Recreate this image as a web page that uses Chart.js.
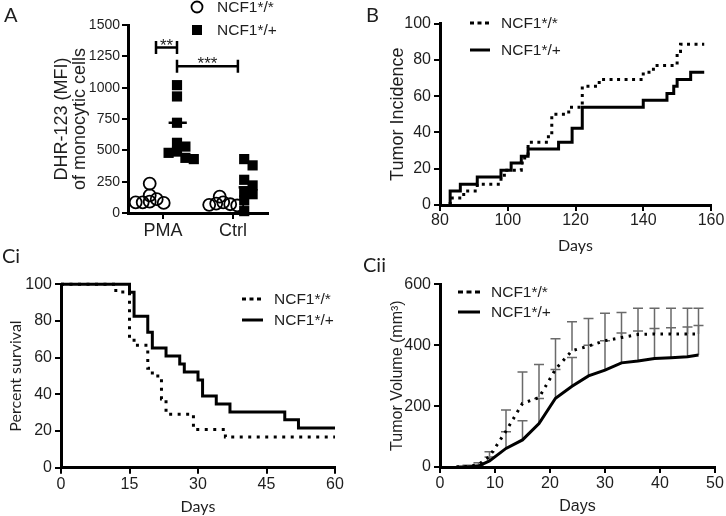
<!DOCTYPE html>
<html>
<head>
<meta charset="utf-8">
<script src="https://cdn.jsdelivr.net/npm/chart.js@4.4.1/dist/chart.umd.min.js"></script>
<style>
  html, body { margin: 0; padding: 0; background: #fff; }
  #wrap { position: relative; width: 726px; height: 516px; overflow: hidden; }
  canvas { position: absolute; }
</style>
</head>
<body>
<div id="wrap">
  <canvas id="chartA" width="300" height="240" style="left:0;top:0"></canvas>
  <canvas id="chartB" width="363" height="260" style="left:363px;top:0"></canvas>
  <canvas id="chartCi" width="363" height="276" style="left:0;top:240px"></canvas>
  <canvas id="chartCii" width="363" height="276" style="left:363px;top:240px"></canvas>
</div>
<script>
// ---- A: DHR-123 MFI, scatter dot plot
const groups = ['PMA', 'Ctrl'];
const pmaHom = [235, 140, 110, 90, 85, 80, 85];
const pmaHet = [1020, 930, 720, 560, 530, 490, 480, 440, 430];
const ctrlHom = [130, 85, 75, 70, 65, 60];
const ctrlHet = [430, 380, 265, 220, 170, 150, 100, 15];
const hetMeans = [720, 205];
const sigMarks = [
  { from: 0.4, to: 0.7, at: 1320, text: '**' },
  { from: 0.7, to: 1.57, at: 1170, text: '***' }
];

// ---- B: tumor incidence (step curves)
const incDaysHom = [83, 83, 87, 91, 98, 99, 104, 105, 106, 112, 113, 118, 122, 127, 140, 143, 150, 151, 158];
const incHom = [0, 3.8, 7.7, 11.5, 15.4, 19.2, 23.1, 26.9, 34.6, 38.5, 50.0, 53.8, 65.4, 69.2, 73.1, 76.9, 84.6, 88.5, 88.5];
const incDaysHet = [83, 83, 86, 91, 98, 101, 104, 106, 115, 119, 122, 140, 147, 149, 150, 154, 158];
const incHet = [0, 7.7, 11.5, 15.4, 19.2, 23.1, 26.9, 30.8, 34.6, 42.3, 53.8, 57.7, 61.5, 65.4, 69.2, 73.1, 73.1];

// ---- Ci: survival
const survDaysHom = [0, 12, 15, 16, 19, 20, 22, 23, 29, 36, 60];
const survHom = [100, 95.8, 70.8, 66.7, 54.2, 50.0, 37.5, 29.2, 20.8, 16.7, 16.7];
const survDaysHet = [0, 15, 16, 19, 20, 23, 26, 27, 30, 31, 34, 37, 49, 52, 60];
const survHet = [100, 95.7, 82.6, 73.9, 65.2, 60.9, 56.5, 52.2, 47.8, 39.1, 34.8, 30.4, 26.1, 21.7, 21.7];

// ---- Cii: tumor volume, mean + SEM
const volDays = [3, 5, 7, 9, 12, 15, 18, 21, 24, 27, 30, 33, 36, 39, 42, 45, 47];
const volHom = [0, 2, 8, 35, 118, 209, 228, 321, 382, 397, 415, 425, 435, 437, 437, 437, 437];
const semHom = [0, 4, 6, 15, 69, 103, 109, 100, 95, 91, 90, 82, 86, 84, 84, 84, 84];
const volHet = [0, 0, 3, 20, 61, 89, 143, 226, 265, 299, 318, 342, 348, 356, 359, 362, 368];
const semHet = [0, 0, 3, 13, 55, 63, 82, 94, 95, 101, 97, 98, 99, 99, 98, 98, 97];

const LEG = ['NCF1*/*', 'NCF1*/+'];
const INK = '#1e1e1e';

Chart.defaults.font.family = "'Liberation Sans', Arial, Helvetica, sans-serif";
Chart.defaults.color = INK;
Chart.defaults.animation = false;
Chart.defaults.responsive = false;
Chart.defaults.plugins.legend.display = false;
Chart.defaults.plugins.tooltip.enabled = false;

function pts(xs, ys) {
  return xs.map((x, i) => ({ x: x, y: ys[i] }));
}

// spread overlapping dots sideways (simple beeswarm), px scale of panel A
function swarm(values, center, minDist, step) {
  const pxX = 70, pxY = 188 / 1500;
  const placed = [];
  values.forEach(v => {
    let x = center;
    for (let k = 0; k < 30; k++) {
      const c = (k % 2 ? 1 : -1) * Math.ceil(k / 2);
      x = center + c * step;
      const ok = placed.every(p => Math.hypot((p.x - x) * pxX, (p.y - v) * pxY) >= minDist);
      if (ok) break;
    }
    placed.push({ x: x, y: v });
  });
  return placed;
}

function linAxis(o) {
  return {
    type: 'linear',
    min: o.min, max: o.max,
    afterBuildTicks: o.afterBuildTicks,
    afterFit: o.afterFit,
    ticks: Object.assign({ stepSize: o.step, color: INK, padding: 3, font: { size: o.tickSize || 16 }, callback: v => String(v) }, o.ticks || {}),
    grid: { drawOnChartArea: false, color: '#000', lineWidth: 2, tickLength: 6 },
    border: { color: '#000', width: 3 },
    title: o.title || { display: false }
  };
}

// legend + panel letter drawn at fixed spots
const decor = {
  id: 'decor',
  afterDraw(chart, args, opts) {
    const ctx = chart.ctx;
    ctx.save();
    if (opts.tag) {
      ctx.font = '20px Lato, sans-serif';
      ctx.fillStyle = INK;
      ctx.textBaseline = 'alphabetic';
      ctx.fillText(opts.tag.text, opts.tag.x, opts.tag.y);
    }
    (opts.items || []).forEach(it => {
      ctx.fillStyle = '#000';
      ctx.strokeStyle = '#000';
      if (it.kind === 'circle') {
        ctx.beginPath();
        ctx.lineWidth = 1.8;
        ctx.arc(it.x, it.y, 5.5, 0, Math.PI * 2);
        ctx.fillStyle = '#fff';
        ctx.fill();
        ctx.stroke();
      } else if (it.kind === 'square') {
        ctx.fillRect(it.x - 5, it.y - 5, 10, 10);
      } else {
        ctx.beginPath();
        ctx.lineWidth = 3;
        ctx.setLineDash(it.dash || []);
        ctx.moveTo(it.x, it.y);
        ctx.lineTo(it.x2, it.y);
        ctx.stroke();
        ctx.setLineDash([]);
      }
      ctx.fillStyle = INK;
      ctx.font = '15.5px "Liberation Sans", Arial, sans-serif';
      ctx.textBaseline = 'middle';
      ctx.fillText(it.label, it.tx, it.y + 1);
    });
    ctx.restore();
  }
};

// ---------------- Panel A ----------------
const dotsA = {
  id: 'dotsA',
  afterDatasetsDraw(chart) {
    const ctx = chart.ctx, xs = chart.scales.x, ys = chart.scales.y;
    ctx.save();
    ctx.strokeStyle = '#000';
    ctx.lineWidth = 2.5;
    hetMeans.forEach((m, i) => {
      const c = i + 0.7;
      ctx.beginPath();
      ctx.moveTo(xs.getPixelForValue(c - 0.12), ys.getPixelForValue(m));
      ctx.lineTo(xs.getPixelForValue(c + 0.14), ys.getPixelForValue(m));
      ctx.stroke();
    });
    sigMarks.forEach(s => {
      const x1 = xs.getPixelForValue(s.from), x2 = xs.getPixelForValue(s.to);
      const y = ys.getPixelForValue(s.at);
      ctx.beginPath();
      ctx.moveTo(x1, y); ctx.lineTo(x2, y);
      ctx.moveTo(x1, y - 6.5); ctx.lineTo(x1, y + 6.5);
      ctx.moveTo(x2, y - 6.5); ctx.lineTo(x2, y + 6.5);
      ctx.stroke();
      ctx.fillStyle = INK;
      ctx.font = '17px "Liberation Sans", Arial, sans-serif';
      ctx.textAlign = 'center';
      ctx.textBaseline = 'alphabetic';
      ctx.fillText(s.text, (x1 + x2) / 2, y + 3);
    });
    ctx.restore();
  }
};

const circleStyle = { pointStyle: 'circle', pointRadius: 6, backgroundColor: 'rgba(255,255,255,0)', borderColor: '#000', borderWidth: 1.8 };
const squareStyle = { pointStyle: 'rect', pointRadius: 7.2, backgroundColor: '#000', borderColor: '#000', borderWidth: 0 };

new Chart(document.getElementById('chartA'), {
  type: 'scatter',
  data: {
    datasets: [
      Object.assign({ label: LEG[1], data: swarm(pmaHet, 0.7, 8, 0.06).concat(swarm(ctrlHet, 1.66, 8, 0.06)) }, squareStyle),
      Object.assign({ label: LEG[0], data: swarm(pmaHom, 0.31, 6, 0.05).concat(swarm(ctrlHom, 1.31, 6, 0.05)) }, circleStyle)
    ]
  },
  options: {
    layout: { padding: { left: 0, top: 25, right: 32, bottom: 0 } },
    clip: false,
    scales: {
      x: linAxis({
        min: 0, max: 2, tickSize: 18,
        afterBuildTicks: ax => { ax.ticks = groups.map((g, i) => ({ value: i + 0.5 })); },
        afterFit: ax => { ax.height = 27; },
        ticks: { callback: (v, i) => groups[i], padding: 1 }
      }),
      y: linAxis({
        min: 0, max: 1500, step: 250, tickSize: 14,
        afterFit: ax => { ax.width = 128; },
        ticks: { padding: 2 },
        title: {
          display: true, text: ['DHR-123 (MFI)', 'of monocytic cells'],
          font: { size: 18, lineHeight: 0.98 }, color: INK,
          padding: { top: 53.5, bottom: 0 }
        }
      })
    },
    plugins: {
      decor: {
        tag: { text: 'A', x: 4, y: 22 },
        items: [
          { kind: 'circle', x: 197, y: 7, tx: 217, label: LEG[0] },
          { kind: 'square', x: 197, y: 30, tx: 217, label: LEG[1] }
        ]
      }
    }
  },
  plugins: [dotsA, decor]
});

// ---------------- Panel B ----------------
new Chart(document.getElementById('chartB'), {
  type: 'line',
  data: {
    datasets: [
      { label: LEG[0], data: pts(incDaysHom, incHom), stepped: 'before', borderColor: '#000', borderWidth: 3, borderDash: [3, 4.5], pointRadius: 0, fill: false, clip: 4 },
      { label: LEG[1], data: pts(incDaysHet, incHet), stepped: 'before', borderColor: '#000', borderWidth: 3, pointRadius: 0, fill: false, clip: 4 }
    ]
  },
  options: {
    layout: { padding: { left: 0, top: 23.5, right: 15, bottom: 0 } },
    scales: {
      x: linAxis({
        min: 80, max: 160, step: 20,
        afterFit: ax => { ax.height = 55; },
        ticks: { padding: 0 },
        title: { display: true, text: 'Days', font: { family: 'Lato, sans-serif', size: 16 }, color: INK, padding: { top: 0, bottom: 4.5 } }
      }),
      y: linAxis({
        min: 0, max: 100, step: 20,
        afterFit: ax => { ax.width = 77; },
        title: { display: true, text: 'Tumor Incidence', font: { size: 18 }, color: INK, padding: { top: 24, bottom: 0 } }
      })
    },
    plugins: {
      decor: {
        tag: { text: 'B', x: 3, y: 22 },
        items: [
          { kind: 'line', dash: [4, 3.5], x: 107, x2: 127, y: 23, tx: 138, label: LEG[0] },
          { kind: 'line', x: 107, x2: 127, y: 50, tx: 138, label: LEG[1] }
        ]
      }
    }
  },
  plugins: [decor]
});

// ---------------- Panel Ci ----------------
new Chart(document.getElementById('chartCi'), {
  type: 'line',
  data: {
    datasets: [
      { label: LEG[0], data: pts(survDaysHom, survHom), stepped: 'before', borderColor: '#000', borderWidth: 3, borderDash: [3, 5.5], pointRadius: 0, fill: false, clip: 4 },
      { label: LEG[1], data: pts(survDaysHet, survHet), stepped: 'before', borderColor: '#000', borderWidth: 3, pointRadius: 0, fill: false, clip: 4 }
    ]
  },
  options: {
    layout: { padding: { left: 0, top: 44.3, right: 28, bottom: 0 } },
    scales: {
      x: linAxis({
        min: 0, max: 60, step: 15,
        afterFit: ax => { ax.height = 48.3; },
        ticks: { padding: 1 },
        title: { display: true, text: 'Days', font: { family: 'Lato, sans-serif', size: 16 }, color: INK, padding: { top: 0, bottom: 0 } }
      }),
      y: linAxis({
        min: 0, max: 100, step: 20,
        afterFit: ax => { ax.width = 61; },
        title: { display: true, text: 'Percent survival', font: { family: 'Lato, sans-serif', size: 16 }, color: INK, padding: { top: 6.5, bottom: 0 } }
      })
    },
    plugins: {
      decor: {
        tag: { text: 'Ci', x: 2, y: 23 },
        items: [
          { kind: 'line', dash: [4, 3.5], x: 242, x2: 263, y: 59, tx: 274, label: LEG[0] },
          { kind: 'line', x: 242, x2: 263, y: 80, tx: 274, label: LEG[1] }
        ]
      }
    }
  },
  plugins: [decor]
});

// ---------------- Panel Cii ----------------
const semBars = {
  id: 'semBars',
  beforeDatasetsDraw(chart) {
    const ctx = chart.ctx, xs = chart.scales.x, ys = chart.scales.y;
    ctx.save();
    ctx.strokeStyle = '#6a6a6a';
    ctx.lineWidth = 1.5;
    chart.data.datasets.forEach(ds => {
      ds.data.forEach((p, i) => {
        const e = ds.sem[i];
        if (!e) return;
        const x = xs.getPixelForValue(p.x);
        const y0 = ys.getPixelForValue(p.y), y1 = ys.getPixelForValue(p.y + e);
        ctx.beginPath();
        ctx.moveTo(x, y0); ctx.lineTo(x, y1);
        ctx.moveTo(x - 5, y1); ctx.lineTo(x + 5, y1);
        ctx.stroke();
      });
    });
    ctx.restore();
  }
};

new Chart(document.getElementById('chartCii'), {
  type: 'line',
  data: {
    datasets: [
      { label: LEG[0], data: pts(volDays, volHom), sem: semHom, borderColor: '#000', borderWidth: 3, borderDash: [2.5, 5.5], pointRadius: 0, fill: false, tension: 0, clip: 4 },
      { label: LEG[1], data: pts(volDays, volHet), sem: semHet, borderColor: '#000', borderWidth: 3, pointRadius: 0, fill: false, tension: 0, clip: 4 }
    ]
  },
  options: {
    layout: { padding: { left: 0, top: 44.3, right: 11, bottom: 0 } },
    scales: {
      x: linAxis({
        min: 0, max: 50, step: 10,
        afterFit: ax => { ax.height = 49; },
        ticks: { padding: 1 },
        title: { display: true, text: 'Days', font: { size: 16 }, color: INK, padding: { top: 0, bottom: 0 } }
      }),
      y: linAxis({
        min: 0, max: 600, step: 200,
        afterFit: ax => { ax.width = 77; },
        title: { display: true, text: 'Tumor Volume (mm³)', font: { size: 16 }, color: INK, padding: { top: 24.5, bottom: 0 } }
      })
    },
    plugins: {
      decor: {
        tag: { text: 'Cii', x: 0, y: 32 },
        items: [
          { kind: 'line', dash: [5, 3.5], x: 95, x2: 117, y: 52, tx: 128, label: LEG[0] },
          { kind: 'line', x: 95, x2: 117, y: 72, tx: 128, label: LEG[1] }
        ]
      }
    }
  },
  plugins: [semBars, decor]
});
</script>
</body>
</html>
